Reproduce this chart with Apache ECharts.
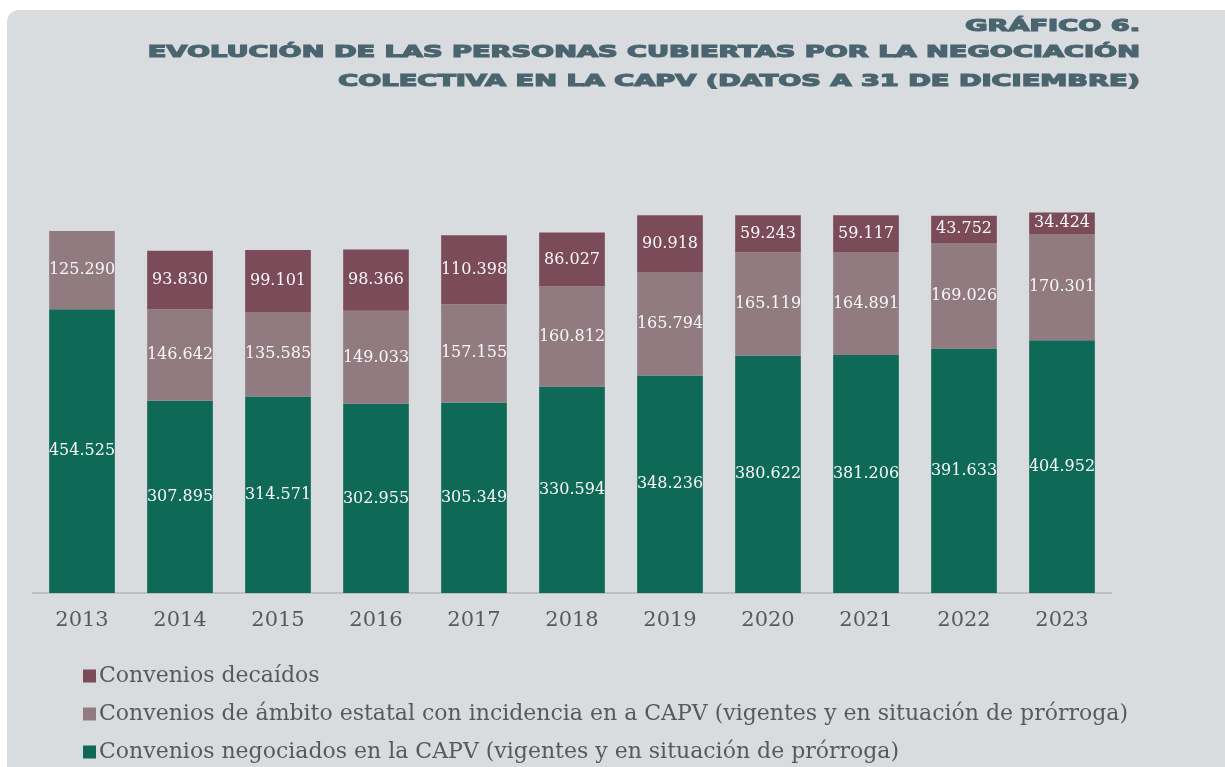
<!DOCTYPE html>
<html>
<head>
<meta charset="utf-8">
<script src="https://cdn.jsdelivr.net/npm/echarts@6/dist/echarts.min.js"></script>
<style>
  html, body { margin: 0; padding: 0; background: #ffffff; }
  #panel {
    position: absolute; left: 7px; top: 10px; width: 1218px; height: 757px;
    background: #d9dcdf; border-top-left-radius: 12px;
  }
  #chart { position: absolute; left: 0; top: 0; width: 1225px; height: 767px; }
</style>
</head>
<body>
<div id="panel"></div>
<div id="chart"></div>
<script>
  // datos a 31 de diciembre
  const years = ["2013", "2014", "2015", "2016", "2017", "2018", "2019", "2020", "2021", "2022", "2023"];
  const negociados = [454525, 307895, 314571, 302955, 305349, 330594, 348236, 380622, 381206, 391633, 404952];
  const estatal = [125290, 146642, 135585, 149033, 157155, 160812, 165794, 165119, 164891, 169026, 170301];
  const decaidos = [null, 93830, 99101, 98366, 110398, 86027, 90918, 59243, 59117, 43752, 34424];

  const nameDecaidos = "Convenios decaídos";
  const nameEstatal = "Convenios de ámbito estatal con incidencia en a CAPV (vigentes y en situación de prórroga)";
  const nameNegociados = "Convenios negociados en la CAPV (vigentes y en situación de prórroga)";

  const titleLines = [
    "GRÁFICO 6.",
    "EVOLUCIÓN DE LAS PERSONAS CUBIERTAS POR LA NEGOCIACIÓN",
    "COLECTIVA EN LA CAPV (DATOS A 31 DE DICIEMBRE)"
  ];

  function fmt(v) {
    return Number(v).toLocaleString("de-DE");
  }

  const labelStyle = {
    show: true,
    position: "inside",
    color: "#f7f7f7",
    fontFamily: "DejaVu Serif",
    fontSize: 16,
    formatter: (p) => (p.value == null ? "" : fmt(p.value))
  };

  let myChart = echarts.init(document.getElementById("chart"));
  let option = {
    backgroundColor: "transparent",
    animation: false,
    graphic: titleLines.map((t, i) => ({
      type: "text",
      x: 1140,
      y: [27, 53, 82][i],
      scaleX: 1.7,
      style: {
        text: t,
        fill: "#4b6570",
        stroke: "#4b6570",
        lineWidth: 1.2,
        font: "bold 16px 'DejaVu Sans'",
        textAlign: "right",
        textVerticalAlign: "middle"
      }
    })),
    legend: {
      orient: "vertical",
      left: 78,
      top: 660,
      height: 130,
      itemWidth: 13,
      itemHeight: 13,
      itemGap: 16,
      icon: "rect",
      data: [nameDecaidos, nameEstatal, nameNegociados],
      textStyle: { color: "#595959", fontFamily: "DejaVu Serif", fontSize: 22, padding: [0, 0, 0, -2] }
    },
    grid: { left: 33, right: 114, top: 156, bottom: 174 },
    xAxis: {
      type: "category",
      data: years,
      axisLine: { lineStyle: { color: "#bdbfc2", width: 2 } },
      axisTick: { show: false },
      axisLabel: { color: "#595959", fontFamily: "DejaVu Serif", fontSize: 21, margin: 17 }
    },
    yAxis: {
      type: "value",
      min: 0,
      max: 700000,
      show: false,
      splitLine: { show: false }
    },
    series: [
      {
        name: nameNegociados,
        type: "bar",
        stack: "total",
        barWidth: "67%",
        data: negociados,
        itemStyle: { color: "#0e6956" },
        label: labelStyle
      },
      {
        name: nameEstatal,
        type: "bar",
        stack: "total",
        data: estatal,
        itemStyle: { color: "#917a80" },
        label: labelStyle
      },
      {
        name: nameDecaidos,
        type: "bar",
        stack: "total",
        data: decaidos,
        itemStyle: { color: "#7b4b5a" },
        label: labelStyle
      }
    ]
  };
  myChart.setOption(option);
</script>
</body>
</html>
